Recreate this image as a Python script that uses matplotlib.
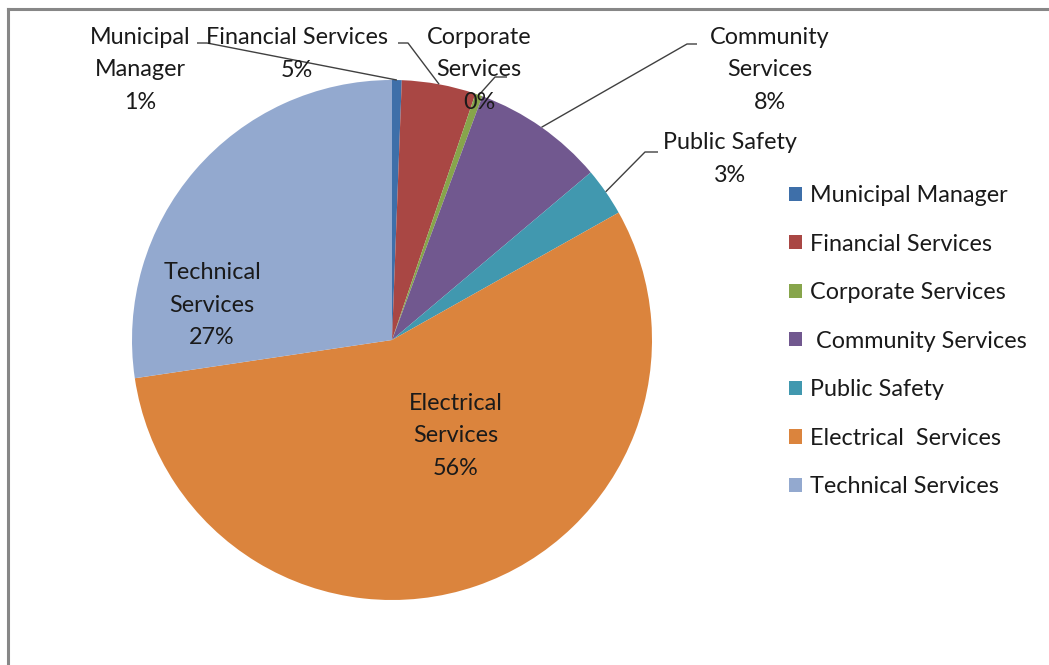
import numpy as np
import matplotlib
matplotlib.use("Agg")
import matplotlib.pyplot as plt
from matplotlib.lines import Line2D
from matplotlib.patches import Patch

plt.rcParams['font.family'] = ['Lato', 'DejaVu Sans']

# Budget share by directorate (percent)
departments = ["Municipal Manager", "Financial Services", "Corporate Services",
               " Community Services", "Public Safety", "Electrical  Services",
               "Technical Services"]
slice_labels = ["Municipal\nManager", "Financial Services", "Corporate\nServices",
                "Community\nServices", "Public Safety", "Electrical\nServices",
                "Technical\nServices"]
shares = [0.6, 4.6, 0.45, 8.2, 3.0, 55.8, 27.35]
colors = ["#3E6FA9", "#A94744", "#87A54B", "#71588F", "#4198AF", "#DB843D", "#93A9CF"]

W, H = 1049, 665
fig = plt.figure(figsize=(W / 100, H / 100), dpi=100)
ax = fig.add_axes([0, 0, 1, 1])

cx, cy, R = 392, H - 340, 260
wedges, _ = ax.pie(shares, colors=colors, startangle=90, counterclock=False,
                   center=(cx, cy), radius=R, frame=True,
                   wedgeprops=dict(linewidth=0))
ax.set_xlim(0, W)
ax.set_ylim(0, H)
ax.set_aspect('equal')
ax.axis('off')

FS = 16.8
# label centre (x, y from top) and leader path (label-side points, y from top)
label_pos = [(140, 70), (297, 54), (479, 70), (770, 70), (730, 159), (456, 436), (212, 305)]
leaders = {
    0: [(197, 43), (207, 43)],
    1: [(398, 43), (408, 43)],
    2: [(507, 77), (495, 77)],
    3: [(697, 44), (687, 44)],
    4: [(658, 152), (645, 152)],
}

for i, (w, lab, v) in enumerate(zip(wedges, slice_labels, shares)):
    x, y = label_pos[i]
    ax.text(x, H - y, f"{lab}\n{round(v)}%", ha='center', va='center',
            fontsize=FS, color='#1a1a1a', linespacing=1.66)
    if i in leaders:
        mid = np.deg2rad((w.theta1 + w.theta2) / 2)
        ex, ey = cx + R * np.cos(mid), cy + R * np.sin(mid)
        xs = [p[0] for p in leaders[i]] + [ex]
        ys = [H - p[1] for p in leaders[i]] + [ey]
        ax.plot(xs, ys, color='#404040', lw=1.0, solid_capstyle='butt')

handles = [Patch(facecolor=c, edgecolor='none') for c in colors]
leg = fig.legend(handles, departments, loc='upper left',
                 bbox_to_anchor=(789 / W, 1 - 185 / H), frameon=False,
                 fontsize=FS, handlelength=0.56, handleheight=0.56,
                 handletextpad=0.34, labelspacing=1.18, borderpad=0,
                 borderaxespad=0)
for t in leg.get_texts():
    t.set_color('#1a1a1a')

# chart-area border (top and left edges)
fig.add_artist(Line2D([7.5 / W, 1], [1 - 9 / H, 1 - 9 / H], color='#878787', lw=2.2,
                      transform=fig.transFigure))
fig.add_artist(Line2D([7.5 / W, 7.5 / W], [0, 1 - 9 / H], color='#878787', lw=2.2,
                      transform=fig.transFigure))

fig.savefig("out.png", dpi=100, facecolor='white')
